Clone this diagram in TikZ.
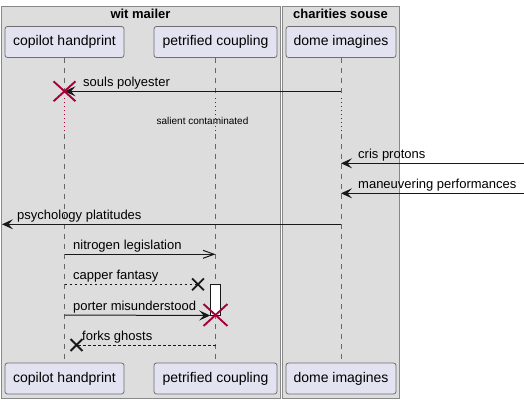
\documentclass[tikz,border=0pt]{standalone}
\usepackage{fontspec}
\setmainfont{Liberation Sans}
\usetikzlibrary{arrows.meta,shapes.misc}
\definecolor{grpbg}{HTML}{DDDDDD}
\definecolor{grpline}{HTML}{888888}
\definecolor{partbg}{HTML}{E2E2F0}
\definecolor{partline}{HTML}{6E6E6E}
\definecolor{dred}{HTML}{A80036}
\definecolor{ink}{HTML}{181818}
\definecolor{lifec}{HTML}{666666}
\begin{document}
\begin{tikzpicture}[x=1pt,y=-1pt,
  grp/.style={draw=grpline,fill=grpbg,line width=0.8pt,inner sep=0pt},
  grptitle/.style={font=\fontsize{13}{15}\selectfont\bfseries,anchor=base,inner sep=0pt},
  part/.style={draw=partline,fill=partbg,rounded corners=2.5pt,line width=0.8pt,
    minimum height=31pt,inner sep=0pt,font=\fontsize{14}{16}\selectfont},
  life/.style={draw=lifec,line width=0.7pt,dash pattern=on 5pt off 5pt},
  delay/.style={draw=dred,line width=0.8pt,dash pattern=on 1pt off 3pt},
  msg/.style={draw=ink,line width=1pt},
  dsh/.style={dash pattern=on 2.5pt off 2.5pt},
  fil/.style={-{Stealth[length=11pt 0 0,width=10pt 0,inset=4.5pt 0]}},
  opn/.style={-{Straight Barb[length=11pt 0 0,width=8pt 0,line width=1pt]}},
  lbl/.style={font=\fontsize{13}{15}\selectfont,anchor=base west,inner sep=0pt},
  dxr/.style={draw=dred,cross out,line width=1.9pt,inner sep=0pt},
  lost/.style={draw=ink,cross out,line width=1.8pt,inner sep=0pt,minimum size=10pt},
  actbox/.style={draw=ink,fill=white,line width=1pt,inner sep=0pt,minimum width=10pt,minimum height=30.7pt}
]
\useasboundingbox (0,0) rectangle (524,404);
\fill[white] (0,0) rectangle (524,404);
% groups
\node[grp,minimum width=279pt,minimum height=392pt] (g1) at (140.5,202) {};
\node[grp,minimum width=117pt,minimum height=392pt] (g2) at (340.5,202) {};
\node[grptitle] (g1t) at (140.5,19) {wit mailer};
\node[grptitle] (g2t) at (340.5,19) {charities souse};
% participants
\node[part,minimum width=119pt] (cpt) at (64.5,42) {copilot handprint};
\node[part,minimum width=123pt] (pct) at (215.5,42) {petrified coupling};
\node[part,minimum width=110pt] (dmt) at (341,42) {dome imagines};
\node[part,minimum width=119pt] (cpb) at (64.5,378.5) {copilot handprint};
\node[part,minimum width=123pt] (pcb) at (215.5,378.5) {petrified coupling};
\node[part,minimum width=110pt] (dmb) at (341,378.5) {dome imagines};
% rows
\coordinate (dA) at (0,98);
\coordinate (dB) at (0,134);
\coordinate (y1) at (0,91.3);
\coordinate (y2) at (0,163.3);
\coordinate (y3) at (0,193.3);
\coordinate (y4) at (0,224.3);
\coordinate (y5) at (0,254.3);
\coordinate (y6) at (0,284.3);
\coordinate (y7) at (0,315);
\coordinate (y8) at (0,345);
\coordinate (rt2) at (524,163.3);
\coordinate (rt3) at (524,193.3);
\coordinate (lf4) at (2,224.3);
% lifelines
\foreach \t/\b in {cpt/cpb,pct/pcb,dmt/dmb}{
  \draw[life] (\t.south) -- (\t.south |- dA);
  \draw[delay] (\t.south |- dA) -- (\t.south |- dB);
  \draw[life] (\t.south |- dB) -- (\b.north);
}
% delay text
\node[font=\fontsize{10}{12}\selectfont,anchor=base,inner sep=0pt] (dly) at (202.5,124) {salient contaminated};
% messages
\draw[msg,fil] (dmt |- y1) -- (cpt |- y1);
\node[dxr,minimum width=20pt,minimum height=18pt] (x1) at (cpt |- y1) {};
\node[lbl] (l1) at (83,86) {souls polyester};

\draw[msg,fil] (rt2) -- (dmt |- y2);
\node[lbl] (l2) at (358,158) {cris protons};

\draw[msg,fil] (rt3) -- (dmt |- y3);
\node[lbl] (l3) at (358,188) {maneuvering performances};

\draw[msg,fil] (dmt |- y4) -- (lf4);
\node[lbl] (l4) at (17,219) {psychology platitudes};

\draw[msg,opn] (cpt |- y5) -- (pct |- y5);
\node[lbl] (l5) at (73,249) {nitrogen legislation};

\node[lost] (lx1) at (198,284.3) {};
\draw[msg,dsh] (cpt |- y6) -- (lx1.center);
\node[lbl] (l6) at (73,279) {capper fantasy};

\node[actbox] (act) at (215.7,299.65) {};
\draw[msg,fil] (cpt |- y7) -- (act.south west);
\node[dxr,minimum width=22pt,minimum height=20pt] (x2) at (pct |- y7) {};
\node[lbl] (l7) at (73,310) {porter misunderstood};

\node[lost] (lx2) at (76.5,345) {};
\draw[msg,dsh] (pct |- y8) -- (lx2.center);
\node[lbl] (l8) at (82,340) {forks ghosts};
\end{tikzpicture}
\end{document}
